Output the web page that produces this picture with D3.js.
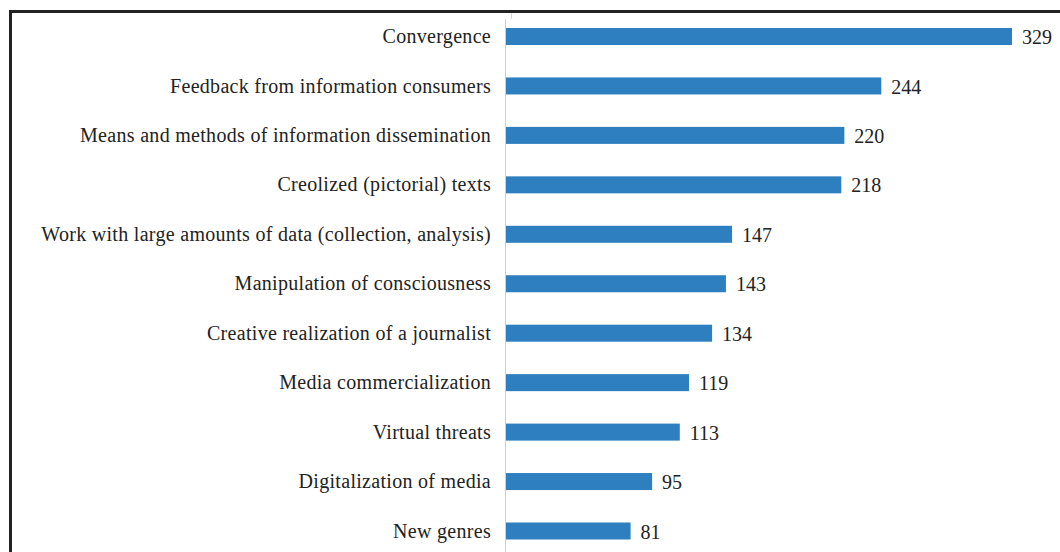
<!DOCTYPE html>
<html><head><meta charset="utf-8">
<script src="https://cdn.jsdelivr.net/npm/d3@7"></script>
<style>html,body{margin:0;padding:0;background:#fff;}svg{display:block;}</style>
</head><body>
<svg id="chart" width="1060" height="552"></svg>
<script>
const categories = [
  "Convergence",
  "Feedback from information consumers",
  "Means and methods of information dissemination",
  "Creolized (pictorial) texts",
  "Work with large amounts of data (collection, analysis)",
  "Manipulation of consciousness",
  "Creative realization of a journalist",
  "Media commercialization",
  "Virtual threats",
  "Digitalization of media",
  "New genres"
];
const values = [329, 244, 220, 218, 147, 143, 134, 119, 113, 95, 81];

const svg = d3.select("#chart");
const W = 1060, H = 552;
const x0 = 506;
const x = d3.scaleLinear().domain([0, 329]).range([x0, 1012]);
const y = d3.scalePoint().domain(categories).range([36.5, 531]);
const barH = 17;
const font = "'Liberation Serif', 'Times New Roman', serif";

svg.append("rect").attr("width", W).attr("height", H).attr("fill", "#fff");

// frame
svg.append("line").attr("x1", 10.5).attr("x2", W).attr("y1", 11.5).attr("y2", 11.5)
  .attr("stroke", "#222").attr("stroke-width", 3);
svg.append("line").attr("x1", 10.5).attr("x2", 10.5).attr("y1", 10).attr("y2", H)
  .attr("stroke", "#222").attr("stroke-width", 3);

// axis line
svg.append("line").attr("x1", x0 - 0.5).attr("x2", x0 - 0.5).attr("y1", 19).attr("y2", H)
  .attr("stroke", "#d0d0d0").attr("stroke-width", 1);
svg.append("line").attr("x1", 511.5).attr("x2", 511.5).attr("y1", 13).attr("y2", 19)
  .attr("stroke", "#d8d8d8").attr("stroke-width", 1);

const g = svg.append("g");
const data = categories.map((c, i) => ({c, v: values[i]}));

g.selectAll("rect.bar").data(data).join("rect").attr("class", "bar")
  .attr("x", x(0)).attr("y", d => y(d.c) - barH / 2)
  .attr("width", d => x(d.v) - x(0)).attr("height", barH)
  .attr("fill", "#2e7fc0");

g.selectAll("text.cat").data(data).join("text").attr("class", "cat")
  .attr("x", 491).attr("y", d => y(d.c)).attr("dy", "0.33em")
  .attr("text-anchor", "end").attr("font-family", font).attr("font-size", 20)
  .attr("letter-spacing", "0.3px")
  .attr("fill", "#222").text(d => d.c);

g.selectAll("text.val").data(data).join("text").attr("class", "val")
  .attr("x", d => x(d.v) + 10).attr("y", d => y(d.c) + 1).attr("dy", "0.33em")
  .attr("font-family", font).attr("font-size", 20)
  .attr("fill", "#222").text(d => d.v);
</script>
</body></html>
